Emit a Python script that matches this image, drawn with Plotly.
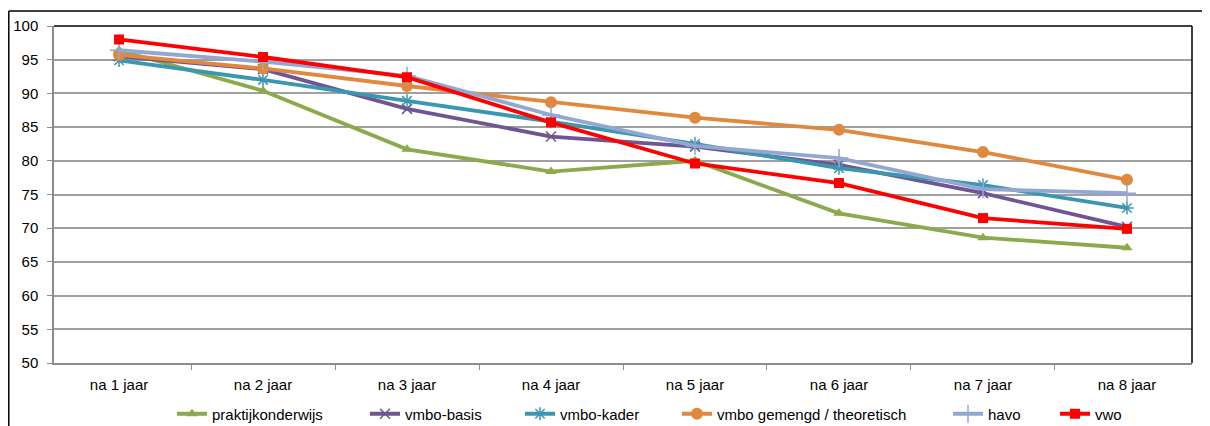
import plotly.graph_objects as go

categories = ["na 1 jaar", "na 2 jaar", "na 3 jaar", "na 4 jaar",
              "na 5 jaar", "na 6 jaar", "na 7 jaar", "na 8 jaar"]

praktijkonderwijs = [96.4, 90.4, 81.7, 78.4, 80.0, 72.2, 68.6, 67.1]
vmbo_basis = [95.5, 93.6, 87.7, 83.6, 82.1, 79.4, 75.2, 70.2]
vmbo_kader = [94.9, 92.0, 88.9, 85.8, 82.5, 78.9, 76.4, 73.0]
vmbo_gt = [95.7, 93.7, 91.1, 88.7, 86.4, 84.6, 81.3, 77.2]
havo = [96.4, 94.7, 92.6, 86.8, 82.2, 80.4, 75.8, 75.2]
vwo = [98.0, 95.4, 92.4, 85.7, 79.6, 76.7, 71.5, 69.9]

series = [
    ("praktijkonderwijs", praktijkonderwijs, "#8BAA4C", "triangle-up", 10),
    ("vmbo-basis", vmbo_basis, "#6F5592", "x-thin-open", 10),
    ("vmbo-kader", vmbo_kader, "#3B97AF", "asterisk-open", 11),
    ("vmbo gemengd / theoretisch", vmbo_gt, "#E0883E", "circle", 12),
    ("havo", havo, "#92A8D2", "cross-thin-open", 13),
    ("vwo", vwo, "#FF0000", "square", 10),
]

# the page body has an 8px margin; figure coordinates = page coordinates - 8
W, H = 1202, 446
L, R, T, B = 46, 18, 18, 91
pw, ph = W - L - R, H - T - B


def px(x):
    return (x - L) / pw


def py(y):
    return (H - B - y) / ph


# left edge (figure px) of each legend entry's text, as in the reference
legend_text_x = [204, 397, 552, 709, 980, 1087]

fig = go.Figure()
legend_layouts = {}
for i, (name, vals, color, sym, size) in enumerate(series):
    thin = sym.endswith("open")
    lname = "legend" if i == 0 else f"legend{i + 1}"
    fig.add_trace(go.Scatter(
        x=categories, y=vals, name=name, mode="lines+markers",
        line=dict(color=color, width=3.8),
        marker=dict(symbol=sym, size=size, color=color,
                    line=dict(color=color, width=1.5 if thin else 0)),
        hoverinfo="skip", legend=lname,
    ))
    legend_layouts[lname] = dict(
        orientation="h", x=px(legend_text_x[i] - 40), xanchor="left",
        y=py(406), yanchor="middle", font=dict(size=15), itemwidth=30,
        bgcolor="rgba(0,0,0,0)", borderwidth=0,
    )

shapes = [
    # outer chart frame (top and left visible)
    dict(type="line", xref="paper", yref="paper", x0=px(0.8), y0=py(3), x1=px(W + 5), y1=py(3),
         line=dict(color="black", width=1.5)),
    dict(type="line", xref="paper", yref="paper", x0=px(0.8), y0=py(3), x1=px(0.8), y1=py(H + 5),
         line=dict(color="black", width=1.5)),
    # plot area top and right border
    dict(type="line", xref="paper", yref="paper", x0=0, y0=1, x1=1, y1=1,
         line=dict(color="black", width=1.5)),
    dict(type="line", xref="paper", yref="paper", x0=1, y0=0, x1=1, y1=1,
         line=dict(color="black", width=1.5)),
]

fig.update_layout(
    width=W, height=H,
    margin=dict(l=L, r=R, t=T, b=B, pad=0),
    paper_bgcolor="white", plot_bgcolor="white",
    font=dict(family="Liberation Sans, Arial, sans-serif", size=15, color="black"),
    showlegend=True,
    shapes=shapes,
    xaxis=dict(type="category", showgrid=False, showline=True, linecolor="#8C8C8C",
               linewidth=1.5, ticks="outside", tickson="boundaries", ticklen=5,
               tickcolor="#8C8C8C", tickfont=dict(size=15), ticklabelstandoff=7,
               automargin=False),
    yaxis=dict(range=[50, 100], dtick=5, showgrid=True, gridcolor="#A0A0A0", gridwidth=1.5,
               showline=True, linecolor="#8C8C8C", linewidth=1.5, ticks="outside",
               ticklen=5, tickcolor="#8C8C8C", tickfont=dict(size=15), zeroline=False,
               ticklabelstandoff=6, automargin=False),
    **legend_layouts,
)

fig.write_html("out.html", config={"displayModeBar": False})
